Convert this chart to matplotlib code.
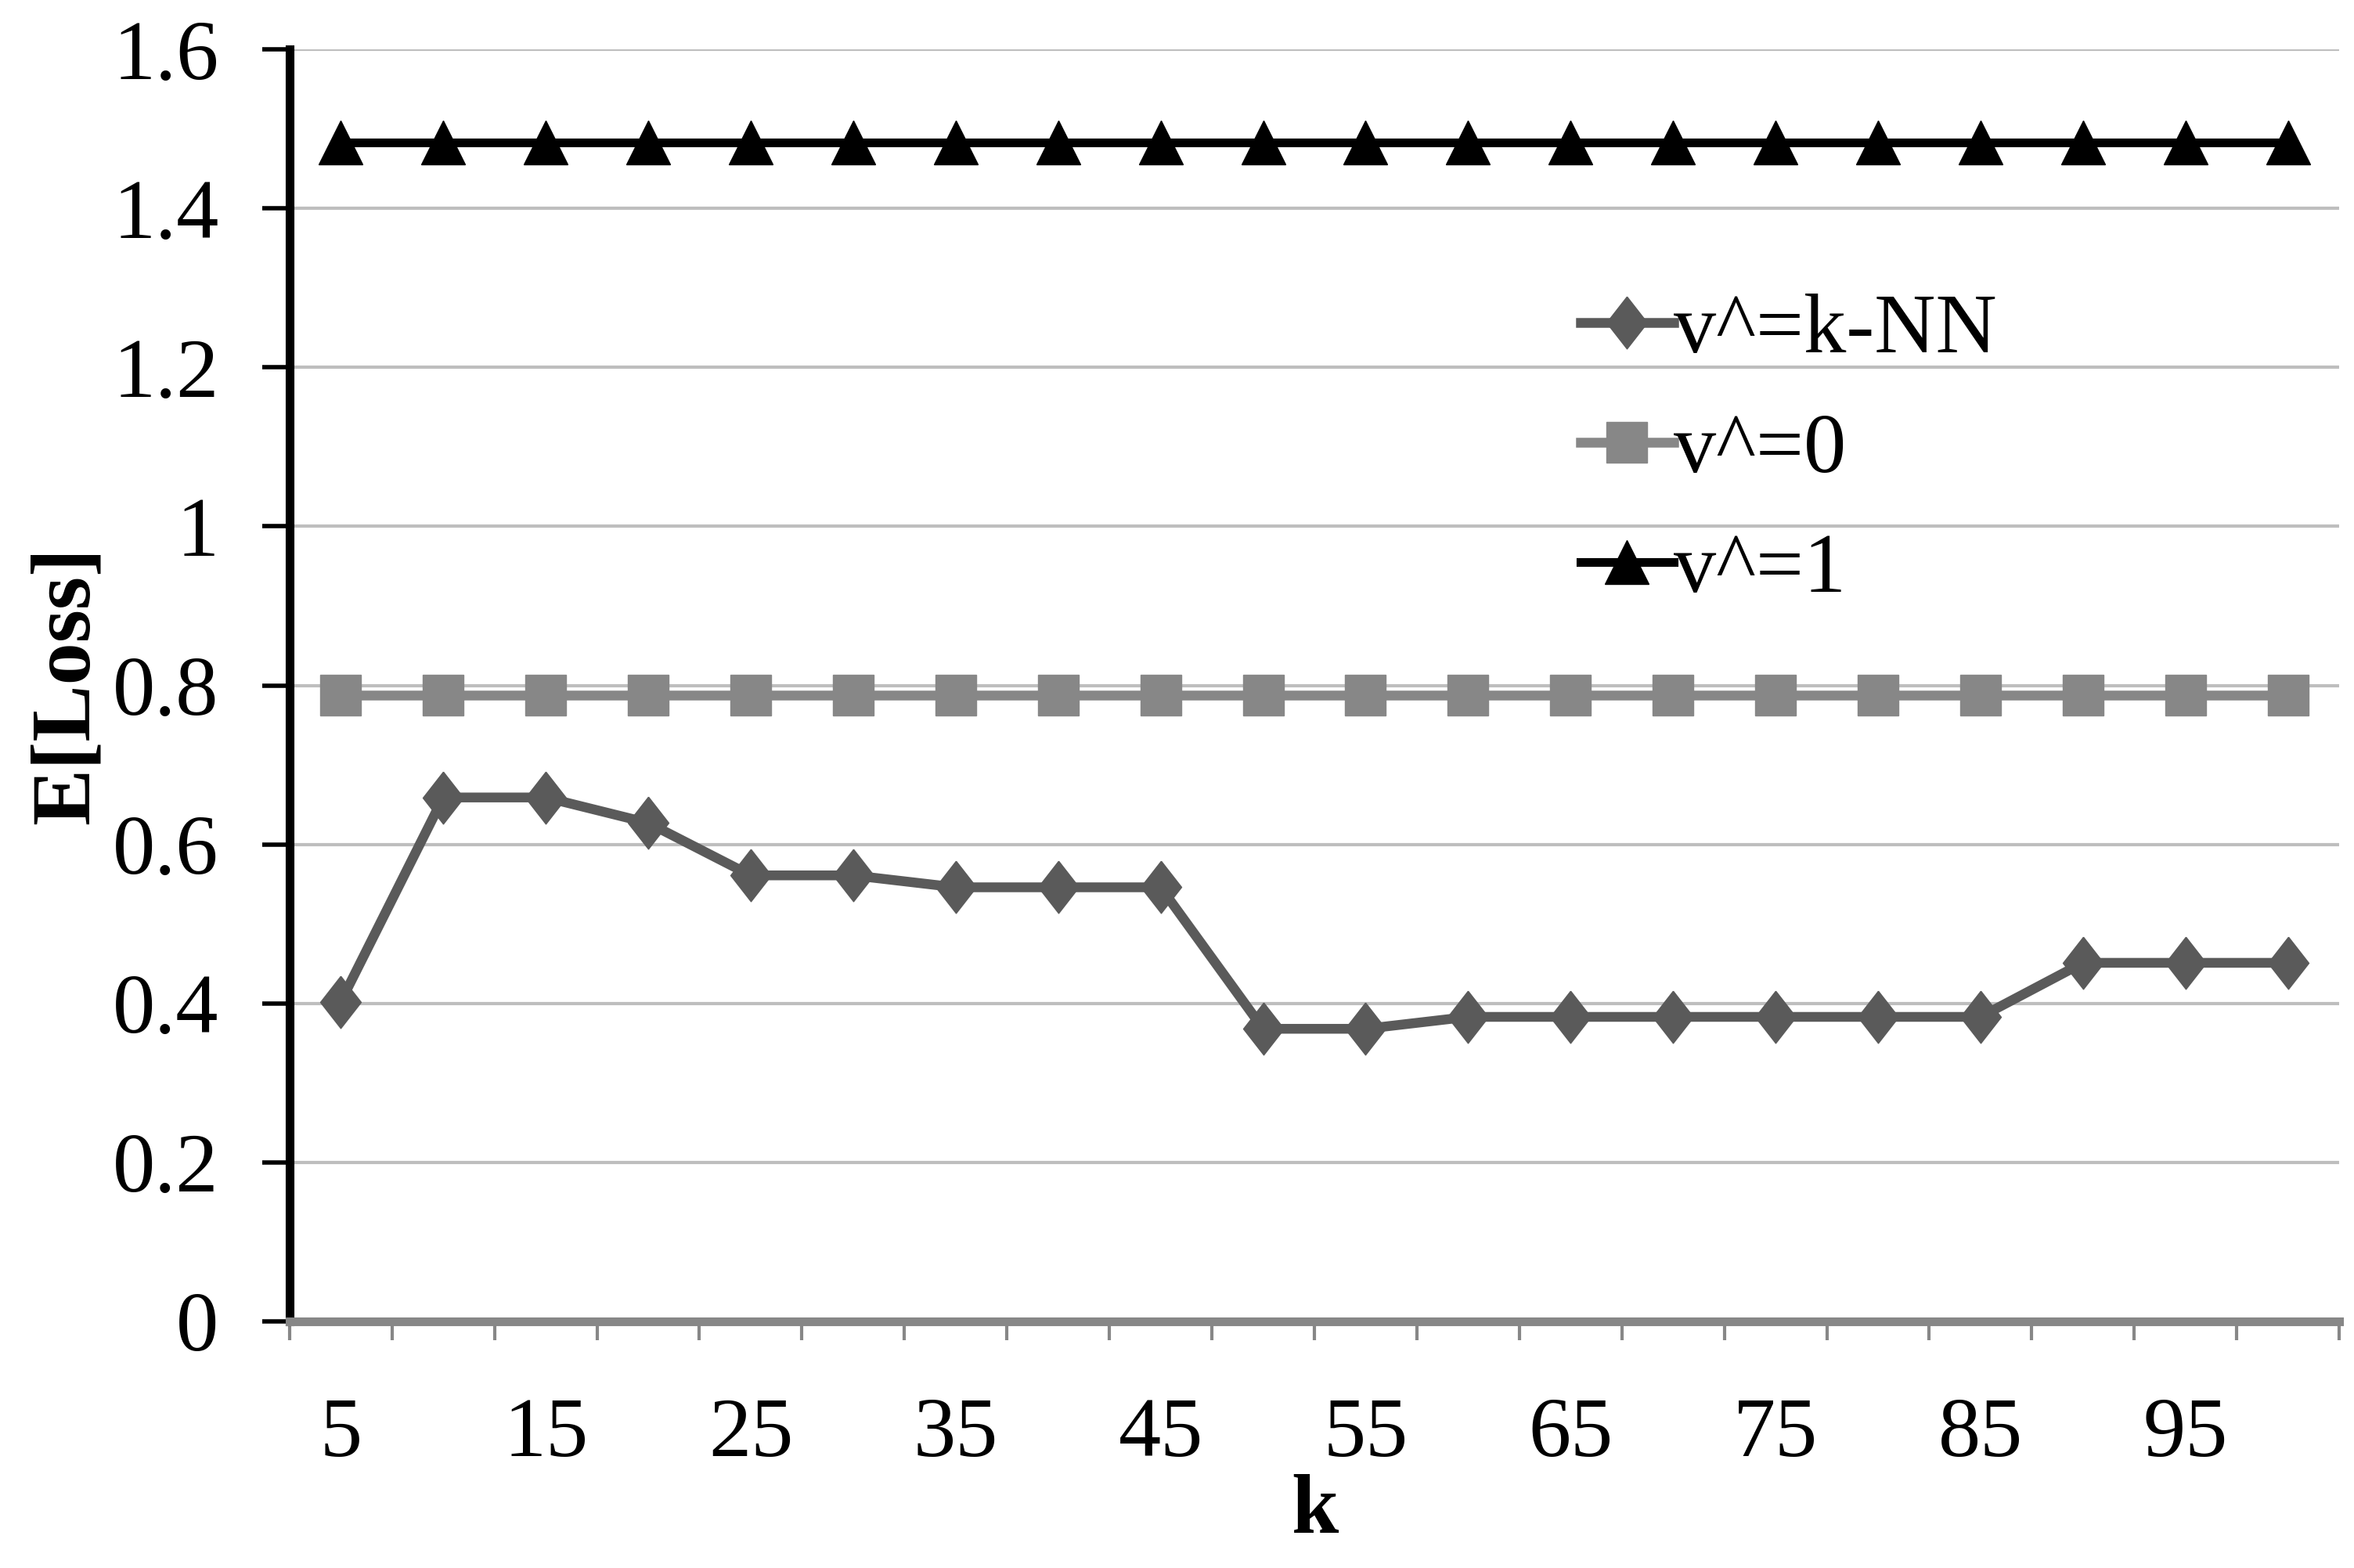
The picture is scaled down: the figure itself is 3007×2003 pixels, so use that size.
import numpy as np
import matplotlib
matplotlib.use("Agg")
from matplotlib import pyplot as plt

# data
k_values = [5, 10, 15, 20, 25, 30, 35, 40, 45, 50, 55, 60, 65, 70, 75, 80, 85, 90, 95, 100]
loss_knn = [0.402, 0.659, 0.659, 0.627, 0.561, 0.561, 0.546, 0.546, 0.546, 0.368,
            0.368, 0.383, 0.383, 0.383, 0.383, 0.383, 0.383, 0.451, 0.451, 0.451]
loss_zero = [0.788] * 20
loss_one = [1.483] * 20
series_labels = ["v^=k-NN", "v^=0", "v^=1"]

plt.rcParams['font.family'] = ['Liberation Serif', 'DejaVu Serif']

# diamond a bit wider than matplotlib's thin diamond
diamond = [(0, 1), (0.78, 0), (0, -1), (-0.78, 0), (0, 1)]

fig = plt.figure(figsize=(30.07, 20.03), dpi=100)
ax = fig.add_axes([0.123, 0.1573, 0.8707, 0.8112])

x = np.arange(len(k_values))
ax.plot(x, loss_knn, color='#5a5a5a', lw=9, marker=diamond, ms=48, label=series_labels[0], zorder=3)
ax.plot(x, loss_zero, color='#878787', lw=9, marker='s', ms=37, label=series_labels[1], zorder=3)
ax.plot(x, loss_one, color='#000000', lw=8, marker='^', ms=40, label=series_labels[2], zorder=3)

ax.set_xlim(-0.5, len(k_values) - 0.5)
ax.set_ylim(0, 1.6)
ax.set_yticks(np.arange(0, 1.61, 0.2))
ax.set_yticklabels(['0', '0.2', '0.4', '0.6', '0.8', '1', '1.2', '1.4', '1.6'])
ax.yaxis.grid(True, color='#bebebe', lw=3)
ax.set_axisbelow(True)

# category boundary ticks, labels on every other category
ax.set_xticks(np.arange(-0.5, len(k_values), 1.0))
ax.set_xticklabels([])
ax.set_xticks(x[::2], minor=True)
ax.set_xticklabels([str(k) for k in k_values[::2]], minor=True)
ax.tick_params(axis='x', which='major', length=17, width=3, color='#878787', direction='out')
ax.tick_params(axis='x', which='minor', length=0, pad=70, labelsize=78)
ax.tick_params(axis='y', length=25, width=4, color='black', pad=40, labelsize=78)

for s in ['top', 'right']:
    ax.spines[s].set_visible(False)
ax.spines['left'].set_linewidth(8)
ax.spines['left'].set_color('black')
ax.spines['bottom'].set_linewidth(8)
ax.spines['bottom'].set_color('#878787')

ax.set_ylabel('E[Loss]', fontsize=78, fontweight='bold', labelpad=6)
ax.set_xlabel('k', fontsize=78, fontweight='bold', labelpad=0)

ax.legend(loc='upper left', bbox_to_anchor=(0.609, 0.842), frameon=False, fontsize=78,
          handlelength=1.1, handletextpad=0.0, labelspacing=0.5, borderpad=0)

fig.savefig('out.png', dpi=100)
